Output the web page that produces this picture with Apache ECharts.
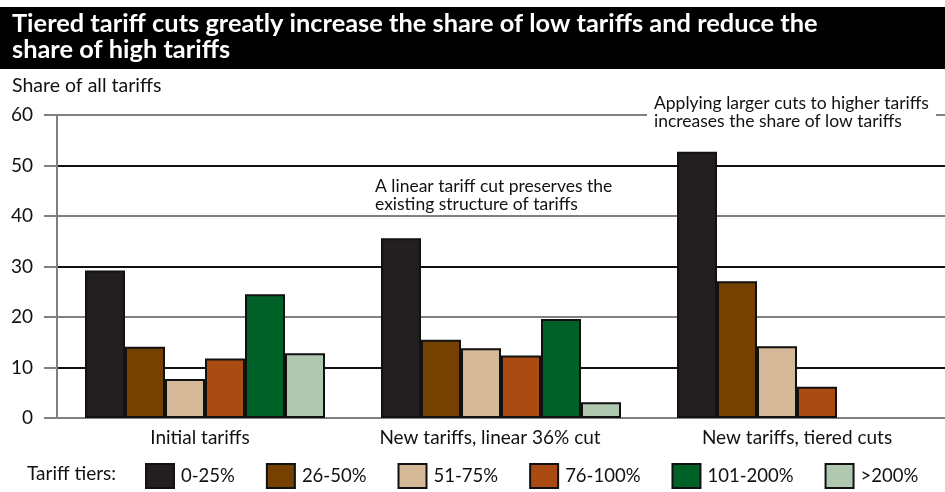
<!DOCTYPE html>
<html>
<head>
<meta charset="utf-8">
<script src="https://cdn.jsdelivr.net/npm/echarts@6/dist/echarts.min.js"></script>
<style>
  html, body { margin: 0; padding: 0; background: #fff; }
  #chart { width: 945px; height: 492px; }
</style>
</head>
<body>
<div id="chart"></div>
<script>
// data
const categories = ['Initial tariffs', 'New tariffs, linear 36% cut', 'New tariffs, tiered cuts']
const tiers = ['0-25%', '26-50%', '51-75%', '76-100%', '101-200%', '>200%']
const tier0to25 = [29.2, 35.6, 52.7]
const tier26to50 = [14.1, 15.5, 27.1]
const tier51to75 = [7.7, 13.8, 14.2]
const tier76to100 = [11.8, 12.4, 6.2]
const tier101to200 = [24.5, 19.6, null]
const tierOver200 = [12.8, 3.1, null]
const yTicks = [0, 10, 20, 30, 40, 50, 60]

const tierValues = [tier0to25, tier26to50, tier51to75, tier76to100, tier101to200, tierOver200]
const tierColors = ['#231f20', '#744100', '#d4b898', '#a94b12', '#006128', '#b0c8b0']
// labels in the original sit a bit left of the category centre
const labelShift = [10, 22, 0]

const font = 'Lato, "Open Sans", sans-serif'

const myChart = echarts.init(document.getElementById('chart'))
myChart.setOption({
  animation: false,
  textStyle: { fontFamily: font },
  title: {
    text: 'Tiered tariff cuts greatly increase the share of low tariffs and reduce the\nshare of high tariffs',
    left: 12,
    top: 11,
    padding: 0,
    textStyle: {
      color: '#fff',
      fontSize: 25.4,
      fontWeight: 'bold',
      lineHeight: 26,
      fontFamily: font
    }
  },
  grid: {
    left: 57,
    right: 0,
    top: 115,
    bottom: 74
  },
  xAxis: {
    type: 'category',
    data: categories.map((c, i) => ({ value: c, textStyle: { padding: [0, labelShift[i], 0, 0] } })),
    axisTick: { show: false },
    axisLine: { lineStyle: { color: '#808080', width: 2 } },
    axisLabel: {
      color: '#111',
      fontSize: 19,
      margin: 10,
      fontFamily: font
    }
  },
  yAxis: {
    type: 'value',
    min: yTicks[0],
    max: yTicks[yTicks.length - 1],
    interval: 10,
    axisLine: { show: true, lineStyle: { color: '#808080', width: 2 } },
    axisTick: { show: true, length: 13, lineStyle: { color: ['#808080', '#111'], width: 2 } },
    splitLine: { lineStyle: { color: ['#808080', '#111'], width: 2 } },
    axisLabel: {
      color: '#111',
      fontSize: 19,
      margin: 24,
      verticalAlign: 'middle',
      padding: [0, 0, 6, 0],
      fontFamily: font
    }
  },
  legend: {
    left: 145,
    top: 463,
    width: 800,
    padding: 0,
    icon: 'rect',
    itemWidth: 28,
    itemHeight: 24,
    itemGap: 31,
    data: tiers,
    textStyle: { fontSize: 18.5, color: '#111', fontFamily: font, padding: [0, 0, 0, 2] },
    itemStyle: { borderColor: '#111', borderWidth: 2 }
  },
  graphic: [
    {
      type: 'rect',
      z: -1,
      shape: { x: 0, y: 7, width: 945, height: 62 },
      style: { fill: '#000' }
    },
    {
      type: 'text',
      left: 12,
      top: 76,
      style: { text: 'Share of all tariffs', fontSize: 19.5, fill: '#111', fontFamily: font }
    },
    {
      type: 'text',
      left: 27,
      top: 464,
      style: { text: 'Tariff tiers:', fontSize: 19, fill: '#111', fontFamily: font }
    },
    {
      type: 'text',
      left: 647,
      top: 94,
      z: 100,
      style: {
        text: 'Applying larger cuts to higher tariffs\nincreases the share of low tariffs',
        fontSize: 17.5,
        lineHeight: 18,
        fill: '#111',
        fontFamily: font,
        backgroundColor: '#fff',
        padding: [0, 7, 0, 7]
      }
    },
    {
      type: 'text',
      left: 375,
      top: 177,
      z: 100,
      style: {
        text: 'A linear tariff cut preserves the\nexisting structure of tariffs',
        fontSize: 17.5,
        lineHeight: 18,
        fill: '#111',
        fontFamily: font
      }
    }
  ],
  series: tiers.map((name, i) => ({
    name: name,
    type: 'bar',
    data: tierValues[i],
    barWidth: 40,
    barGap: '0%',
    itemStyle: {
      color: tierColors[i],
      borderColor: '#111',
      borderWidth: 2
    }
  }))
})
</script>
</body>
</html>
